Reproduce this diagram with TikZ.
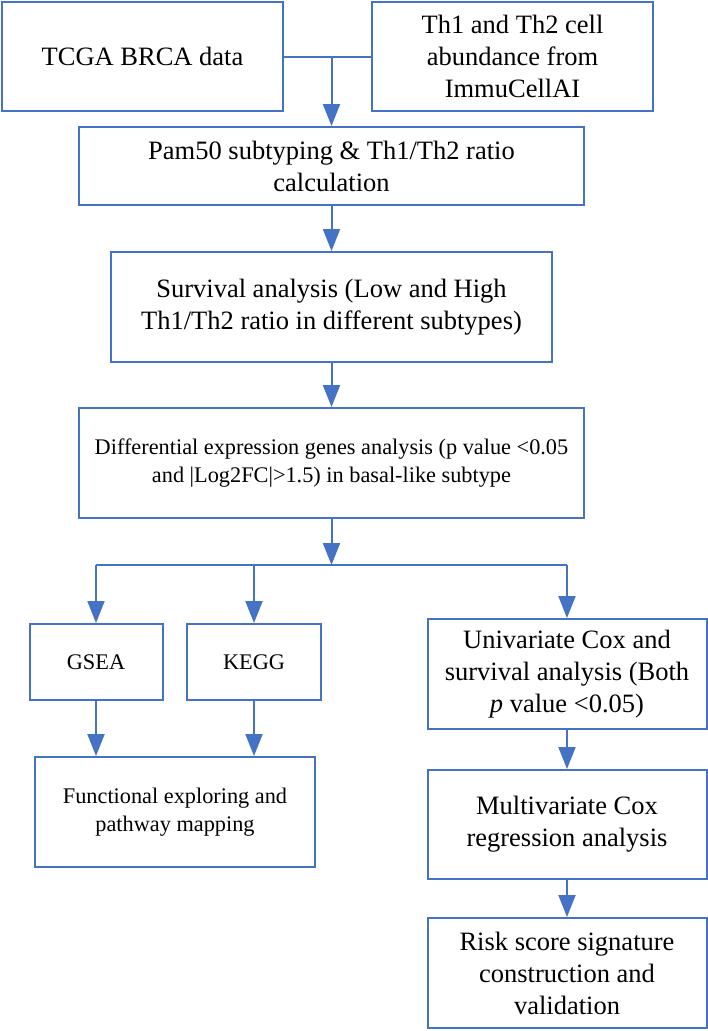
\documentclass[tikz,border=0pt]{standalone}
\usepackage{fontspec}
\setmainfont{Liberation Serif}
\usetikzlibrary{calc,positioning,arrows.meta}
\definecolor{flowblue}{HTML}{4472C4}
\tikzstyle{flowbox}=[draw=flowblue,line width=2pt,fill=white,align=center,inner sep=0pt,font=\fontsize{26.5}{32}\selectfont]
\newcommand{\stepnode}[6]{\node[flowbox,minimum width=#3,minimum height=#4,#5] (#1) at #2 {#6};}
\newcommand{\myarrow}[2]{\draw[flowarrow] (#1) -- (#2);}
\tikzset{
	flowline/.style={draw=flowblue,line width=2pt},
	flowarrow/.style={flowline,-{Triangle[width=17pt,length=22pt]}},
	smalltext/.style={font=\fontsize{22.3}{28}\selectfont}
}

\begin{document}
\begin{tikzpicture}[x=1pt,y=-1pt]
    \fill[white] (0,0) rectangle (708,1031);
    \useasboundingbox (0,0) rectangle (708,1031);

    % inputs
    \stepnode{tcga}{(142.5,56.5)}{281pt}{109pt}{}{TCGA BRCA data}
    \stepnode{cells}{(512.5,56.5)}{281pt}{109pt}{}{Th1 and Th2 cell\\abundance from\\ImmuCellAI}

    % main column
    \stepnode{pam}{(331.5,166)}{505pt}{78pt}{}{Pam50 subtyping \& Th1/Th2 ratio\\calculation}
    \stepnode{surv}{(331.5,307)}{441pt}{110pt}{}{Survival analysis (Low and High\\Th1/Th2 ratio in different subtypes)}
    \stepnode{deg}{(331.5,463)}{505pt}{110pt}{smalltext}{Differential expression genes analysis (p value <0.05\\and |Log2FC|>1.5) in basal-like subtype}

    % left branch
    \stepnode{gsea}{(96,662)}{133pt}{76pt}{smalltext}{GSEA}
    \stepnode{kegg}{(254,662)}{134pt}{76pt}{smalltext}{KEGG}
    \stepnode{func}{(175,812)}{280pt}{110pt}{smalltext}{Functional exploring and\\pathway mapping}

    % right branch
    \stepnode{univ}{(567,674)}{279pt}{110pt}{}{Univariate Cox and\\survival analysis (Both\\\textit{p} value <0.05)}
    \stepnode{multi}{(567,824.5)}{279pt}{109pt}{}{Multivariate Cox\\regression analysis}
    \stepnode{risk}{(567,973)}{279pt}{110pt}{}{Risk score signature\\construction and\\validation}

    \coordinate (join) at (pam.north |- tcga.east);
    \coordinate (split) at (331.5,565);
    \coordinate (gseatop) at (gsea.north |- split);
    \coordinate (keggtop) at (kegg.north |- split);
    \coordinate (univtop) at (univ.north |- split);

    \draw[flowline] (tcga) -- (cells);
    \myarrow{join}{pam.north}
    \myarrow{pam}{surv}
    \myarrow{surv}{deg}
    \myarrow{deg}{split}
    \draw[flowline] (gseatop) -- (univtop);
    \myarrow{gseatop}{gsea.north}
    \myarrow{keggtop}{kegg.north}
    \myarrow{univtop}{univ.north}
    \draw[flowarrow] (gsea.south) -- (gsea.south |- func.north);
    \draw[flowarrow] (kegg.south) -- (kegg.south |- func.north);
    \myarrow{univ}{multi}
    \myarrow{multi}{risk}
\end{tikzpicture}
\end{document}
